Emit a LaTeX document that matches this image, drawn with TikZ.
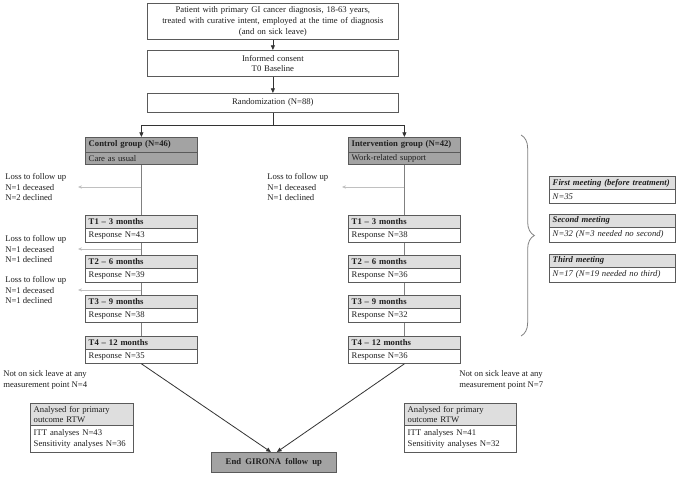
\documentclass[tikz,border=0pt]{standalone}
\usepackage{fontspec}
\setmainfont{Liberation Serif}
\usetikzlibrary{arrows.meta,decorations.pathreplacing,calc}
\definecolor{dk}{HTML}{A3A3A3}
\definecolor{lt}{HTML}{DEDEDE}
\definecolor{bd}{HTML}{5A5A5A}
\definecolor{ln}{HTML}{808080}
\definecolor{ls}{HTML}{C0C0C0}
\definecolor{tx}{HTML}{1F1F1F}
\newcommand\fs{\fontsize{6.5}{7.9}\selectfont}
\newcommand\bx[7]{\node[#6, anchor=north west, minimum width={(#4-#2)*0.75pt}, minimum height={(#5-#3)*0.75pt}, text width={(#4-#2)*0.75pt-5pt}] (#1) at (#2,#3) {#7};}
\begin{document}
\begin{tikzpicture}[x=0.75pt,y=-0.75pt,
  box/.style={draw=bd, line width=0.6pt, inner xsep=2.5pt, inner ysep=0pt, font=\fs, text=tx, align=left},
  dark/.style={box, fill=dk},
  light/.style={box, fill=lt},
  plain/.style={box, fill=white},
  lab/.style={font=\fs, text=tx, align=left, inner sep=0pt, anchor=west},
  flow/.style={draw=black!80, line width=0.6pt, -{Triangle[length=3.5pt,width=3pt]}},
  vline/.style={draw=ln, line width=0.7pt},
  loss/.style={draw=ls, line width=0.6pt, -{Stealth[length=3pt,width=2.5pt]}},
  bracestyle/.style={draw=ln, line width=0.6pt, decorate, decoration={brace, amplitude=10pt}}
]
\useasboundingbox (0,0) rectangle (677,477);
\fill[white] (0,0) rectangle (677,477);

% top flow
\bx{b1}{147}{3}{398}{39}{plain, align=center}{Patient with primary GI cancer diagnosis, 18-63 years,\\[0.6pt]treated with curative intent, employed at the time of diagnosis\\[0.6pt](and on sick leave)}
\bx{b2}{147}{50}{398}{76}{plain, align=center}{Informed consent\\T0 Baseline}
\bx{b3}{147}{93}{398}{112}{plain, align=center}{Randomization (N=88)}
\draw[flow] (b1.south) -- (b2.north);
\draw[flow] (b2.south) -- (b3.north);

% groups
\bx{cgh}{85}{137}{197}{152}{dark}{\textbf{Control group (N=46)}}
\bx{cgb}{85}{152}{197}{164}{dark}{Care as usual}
\bx{igh}{348}{137}{460}{152}{dark}{\textbf{Intervention group (N=42)}}
\bx{igb}{348}{152}{460}{164}{dark}{Work-related support}

\coordinate (split) at (b3.south |- 0,125);
\draw[line width=0.6pt, draw=black!80] (b3.south) -- (split);
\draw[flow] (split) -| (cgh.north);
\draw[flow] (split) -| (igh.north);

% control T boxes
\bx{c1h}{85}{215}{197}{228}{light}{\textbf{T1 -- 3 months}}
\bx{c1b}{85}{228}{197}{242}{plain}{Response N=43}
\bx{c2h}{85}{255}{197}{268}{light}{\textbf{T2 -- 6 months}}
\bx{c2b}{85}{268}{197}{282}{plain}{Response N=39}
\bx{c3h}{85}{295}{197}{308}{light}{\textbf{T3 -- 9 months}}
\bx{c3b}{85}{308}{197}{322}{plain}{Response N=38}
\bx{c4h}{85}{336}{197}{349}{light}{\textbf{T4 -- 12 months}}
\bx{c4b}{85}{349}{197}{363}{plain}{Response N=35}

% intervention T boxes
\bx{i1h}{348}{215}{460}{228}{light}{\textbf{T1 -- 3 months}}
\bx{i1b}{348}{228}{460}{242}{plain}{Response N=38}
\bx{i2h}{348}{255}{460}{268}{light}{\textbf{T2 -- 6 months}}
\bx{i2b}{348}{268}{460}{282}{plain}{Response N=36}
\bx{i3h}{348}{295}{460}{308}{light}{\textbf{T3 -- 9 months}}
\bx{i3b}{348}{308}{460}{322}{plain}{Response N=32}
\bx{i4h}{348}{336}{460}{349}{light}{\textbf{T4 -- 12 months}}
\bx{i4b}{348}{349}{460}{363}{plain}{Response N=36}

\draw[vline] (cgb.south) -- (c1h.north);
\draw[vline] (c1b.south) -- (c2h.north);
\draw[vline] (c2b.south) -- (c3h.north);
\draw[vline] (c3b.south) -- (c4h.north);
\draw[vline] (igb.south) -- (i1h.north);
\draw[vline] (i1b.south) -- (i2h.north);
\draw[vline] (i2b.south) -- (i3h.north);
\draw[vline] (i3b.south) -- (i4h.north);

% loss to follow up
\coordinate (lc1) at (141,187); \coordinate (le1) at (78,187);
\coordinate (lc2) at (141,249); \coordinate (le2) at (78,249);
\coordinate (lc3) at (141,290); \coordinate (le3) at (78,290);
\coordinate (li1) at (404,187); \coordinate (lj1) at (342,187);
\draw[loss] (lc1) -- (le1);
\draw[loss] (lc2) -- (le2);
\draw[loss] (lc3) -- (le3);
\draw[loss] (li1) -- (lj1);
\node[lab] (lt1) at (5,187) {Loss to follow up\\N=1 deceased\\N=2 declined};
\node[lab] (lt2) at (5,249) {Loss to follow up\\N=1 deceased\\N=1 declined};
\node[lab] (lt3) at (5,290) {Loss to follow up\\N=1 deceased\\N=1 declined};
\node[lab] (lt4) at (267,187) {Loss to follow up\\N=1 deceased\\N=1 declined};

% meetings
\coordinate (br1) at (521,135); \coordinate (br2) at (521,336);
\draw[bracestyle] (br1) -- (br2);
\bx{m1h}{549}{176}{675}{189}{light}{\textbf{\textit{First meeting (before treatment)}}}
\bx{m1b}{549}{189}{675}{203}{plain}{\textit{N=35}}
\bx{m2h}{549}{214}{675}{227}{light}{\textbf{\textit{Second meeting}}}
\bx{m2b}{549}{227}{675}{242}{plain}{\textit{N=32 (N=3 needed no second)}}
\bx{m3h}{549}{254}{675}{267}{light}{\textbf{\textit{Third meeting}}}
\bx{m3b}{549}{267}{675}{282}{plain}{\textit{N=17 (N=19 needed no third)}}

% bottom
\node[lab] (ns1) at (3,380) {Not on sick leave at any\\measurement point N=4};
\node[lab] (ns2) at (459,380) {Not on sick leave at any\\measurement point N=7};
\bx{a1h}{30}{403}{133}{425}{light}{Analysed for primary\\outcome RTW}
\bx{a1b}{30}{425}{133}{452}{plain}{ITT analyses N=43\\Sensitivity analyses N=36}
\bx{a2h}{404}{403}{516}{425}{light}{Analysed for primary\\outcome RTW}
\bx{a2b}{404}{425}{516}{452}{plain}{ITT analyses N=41\\Sensitivity analyses N=32}
\bx{end}{211}{452}{336}{472}{dark, align=center}{\textbf{End\, GIRONA\, follow\, up}}
\draw[flow] (c4b.south) -- ($(end.north)+(-3,0)$);
\draw[flow] (i4b.south) -- ($(end.north)+(3,0)$);
\end{tikzpicture}
\end{document}
